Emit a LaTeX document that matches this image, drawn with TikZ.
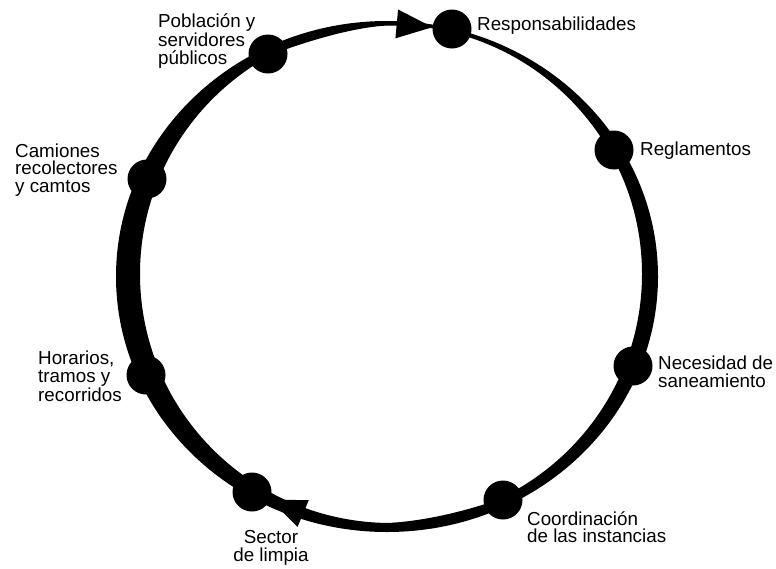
\documentclass[tikz,border=0pt]{standalone}
\usepackage{fontspec}
\setmainfont{Liberation Sans}
\usetikzlibrary{arrows.meta}
\begin{document}
\begin{tikzpicture}[x=1pt,y=-1pt,
  dot/.style={circle,fill=black,minimum size=39pt,inner sep=0pt},
  lbl/.style={font=\fontsize{18.8}{17.5}\selectfont,inner sep=0pt,align=left,anchor=base west},
  flow/.style={line width=3.5pt,shorten >=19.5pt,-{Triangle[length=36pt,width=28pt]}}]
\useasboundingbox (0,0) rectangle (776,568);
% ring of varying thickness
\fill[even odd rule] (387,276.5) ellipse [x radius=271, y radius=255.5]
                     (391,274) ellipse [x radius=251, y radius=249];
% nodes on the ring
\node[dot] (resp)  at (452,29)  {};
\node[dot] (regl)  at (614,150) {};
\node[dot] (nec)   at (633,366) {};
\node[dot] (coord) at (503,500) {};
\node[dot] (sec)   at (252,492) {};
\node[dot] (hor)   at (146,375) {};
\node[dot] (cam)   at (147,179) {};
\node[dot] (pob)   at (268,54)  {};
% arrows
\draw[flow] (pob.center) to[bend left=13] (resp.center);
\draw[flow] (coord.center) to[bend left=21] (sec.center);
% labels
\node[lbl] (tresp)  at (477,30)  {Responsabilidades};
\node[lbl] (tregl)  at (640,155) {Reglamentos};
\node[lbl] (tnec)   at (658,387) {Necesidad de\\saneamiento};
\node[lbl] (tcoord) at (527,542.5) {Coordinación\\de las instancias};
\node[lbl,align=center,anchor=base] (tsec) at (271,561) {Sector\\de limpia};
\node[lbl] (thor)   at (38,401)  {Horarios,\\tramos y\\recorridos};
\node[lbl] (tcam)   at (15,192)  {Camiones\\recolectores\\y camtos};
\node[lbl] (tpob)   at (158,64)  {Población y\\servidores\\públicos};
\end{tikzpicture}
\end{document}
